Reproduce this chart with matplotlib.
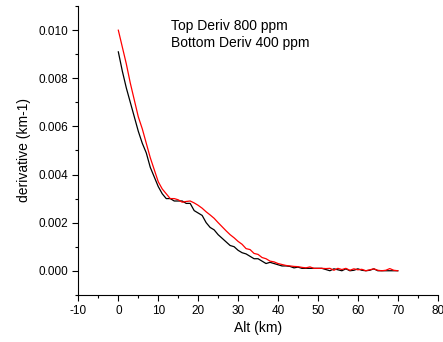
import matplotlib
matplotlib.use("Agg")
import matplotlib.pyplot as plt
from matplotlib.ticker import MultipleLocator

plt.rcParams['font.family'] = ['Liberation Sans', 'DejaVu Sans']
plt.rcParams['axes.unicode_minus'] = False

alt = list(range(0, 71))

# 800 ppm (red, top)
deriv_800 = [0.0100, 0.0093, 0.0086, 0.0078, 0.0071, 0.0064, 0.0059, 0.0053, 0.0047, 0.0042,
             0.0037, 0.0034, 0.0032, 0.0030, 0.0030, 0.00295, 0.00285, 0.00288, 0.0029, 0.00282,
             0.00272, 0.0026, 0.00245, 0.00232, 0.00218, 0.0020, 0.00183, 0.00166, 0.0015, 0.00137,
             0.00122, 0.0011, 0.00092, 0.00088, 0.00072, 0.00068, 0.00055, 0.0005, 0.0004, 0.00037,
             0.0003, 0.00026, 0.00022, 0.0002, 0.00018, 0.00017, 0.00014, 0.00012, 0.00016, 0.0001,
             0.0001, 0.0001, 0.00009, 0.0001, 0.00002, 0.0001, 0.00005, 0.0001, 0.00002, 0.00008,
             0.00004, 0.00006, 0.0, 0.00004, 0.00008, 0.00002, 0.0, 0.00002, 0.00009, 0.00002, 0.0]

# 400 ppm (black, bottom)
deriv_400 = [0.0091, 0.0083, 0.0076, 0.0070, 0.0064, 0.0058, 0.0053, 0.0049, 0.0043, 0.0039,
             0.0035, 0.0032, 0.0030, 0.0030, 0.0029, 0.0029, 0.0029, 0.0028, 0.0028, 0.0025,
             0.0024, 0.0023, 0.0020, 0.0018, 0.0017, 0.0015, 0.00135, 0.0012, 0.00105, 0.0010,
             0.00085, 0.00075, 0.0007, 0.0006, 0.0005, 0.0005, 0.0004, 0.0003, 0.00035, 0.0003,
             0.00025, 0.0002, 0.0002, 0.00018, 0.00012, 0.00015, 0.0001, 0.0001, 0.0001, 0.0001,
             0.0001, 0.0001, 0.00005, 0.0, 0.00008, 0.00004, 0.0, 0.00008, 0.0, 0.00002,
             0.00008, 0.00002, 0.0, 0.00002, 0.00008, 0.0, 0.0, 0.0, 0.0, 0.0, 0.0]

fig = plt.figure(figsize=(4.43, 3.42), dpi=100)
ax = fig.add_axes([0.177, 0.138, 0.811, 0.844])

ax.plot(alt, deriv_400, color='black', lw=0.9)
ax.plot(alt, deriv_800, color='red', lw=0.9)

ax.set_xlim(-10, 80)
ax.set_ylim(-0.001, 0.011)
ax.xaxis.set_major_locator(MultipleLocator(10))
ax.xaxis.set_minor_locator(MultipleLocator(5))
ax.yaxis.set_major_locator(MultipleLocator(0.002))
ax.yaxis.set_minor_locator(MultipleLocator(0.001))
ax.yaxis.set_major_formatter(matplotlib.ticker.FormatStrFormatter('%.3f'))

ax.spines['top'].set_visible(False)
ax.spines['right'].set_visible(False)
ax.tick_params(which='major', direction='out', length=4, width=0.8, labelsize=8.5)
ax.tick_params(which='minor', direction='out', length=2, width=0.8)

ax.set_xlabel('Alt (km)', fontsize=10, labelpad=3)
ax.set_ylabel('derivative (km-1)', fontsize=10, labelpad=5)

ax.text(0.258, 0.955, 'Top Deriv 800 ppm\nBottom Deriv 400 ppm', transform=ax.transAxes,
        fontsize=10, va='top', ha='left', linespacing=1.3)

fig.savefig('out.png', dpi=100)
